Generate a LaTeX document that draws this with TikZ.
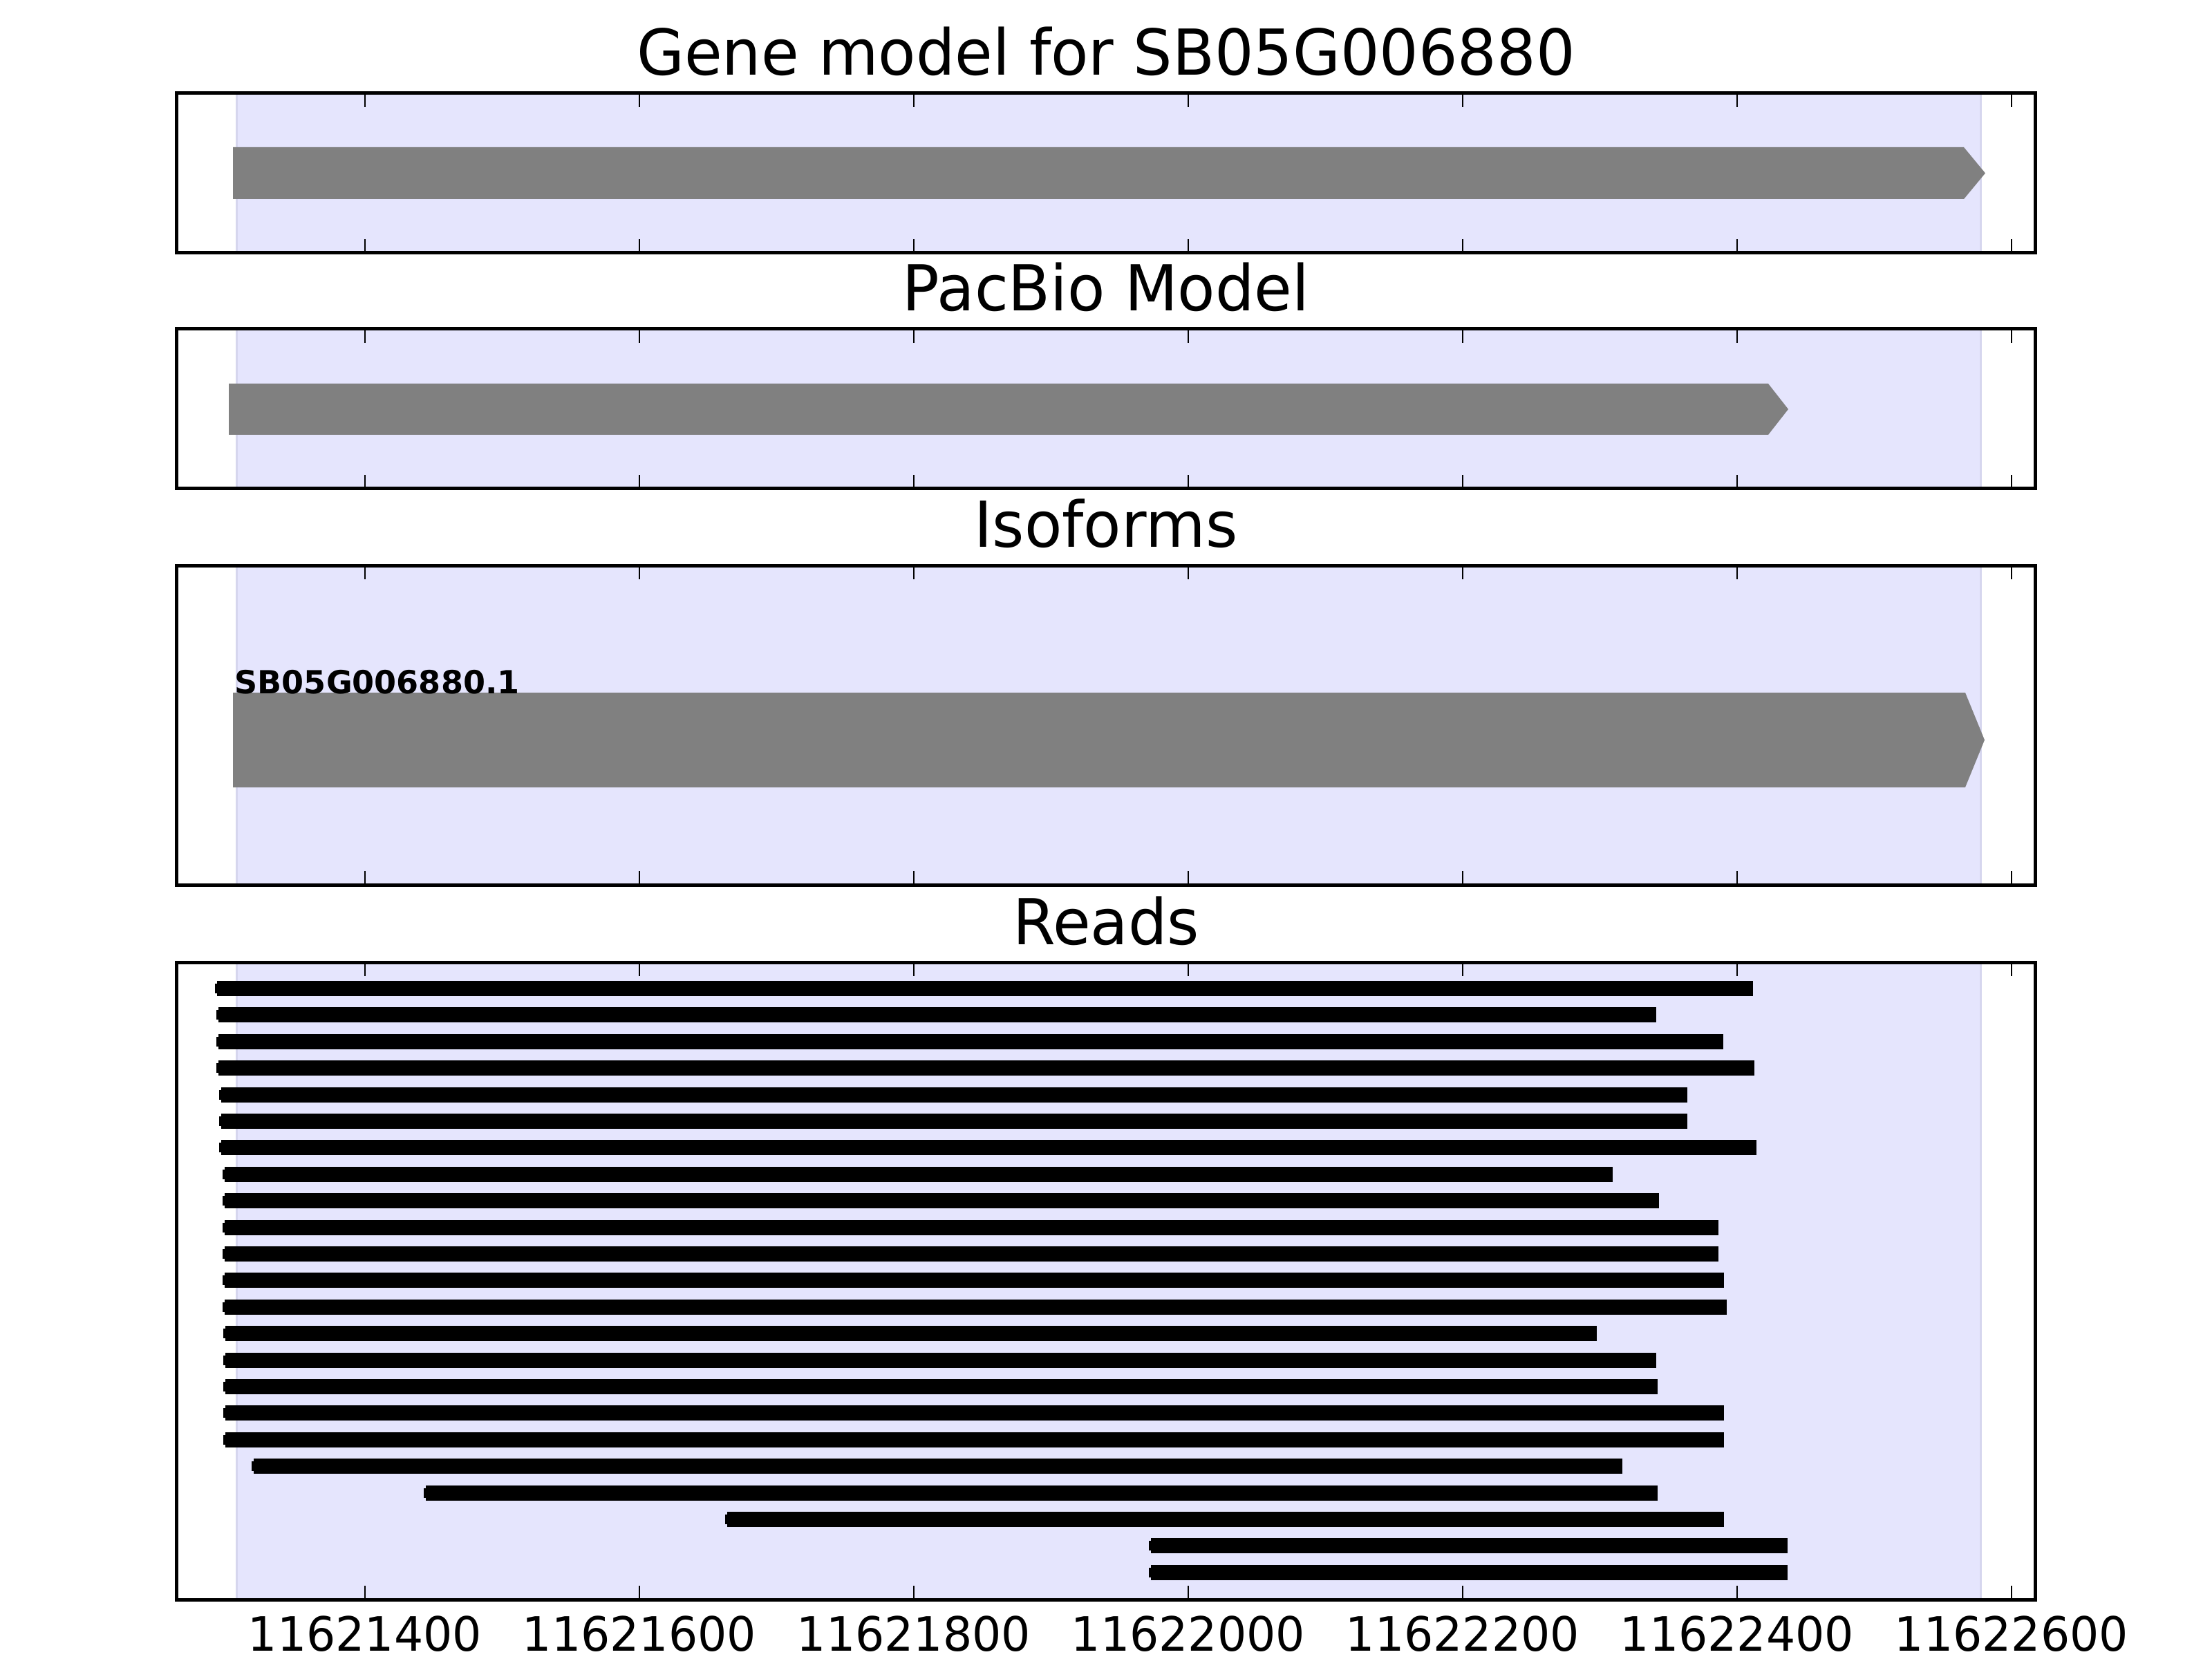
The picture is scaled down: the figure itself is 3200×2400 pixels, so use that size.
\documentclass[tikz,border=0pt]{standalone}
\usepackage{fontspec}
\setmainfont{DejaVu Sans}
\usetikzlibrary{positioning}

\definecolor{spanfill}{RGB}{229,229,253}
\definecolor{spanedge}{RGB}{214,214,238}
\definecolor{genegray}{RGB}{128,128,128}
\newcommand{\tallify}[1]{\scalebox{1}[1.03]{#1}}

\begin{document}
\begin{tikzpicture}[
  x=0.1mm, y=-0.1mm,
  frame/.style={draw=black, line width=0.5mm},
  tickmark/.style={draw=black, line width=0.25mm},
  region/.style={fill=spanfill},
  regionedge/.style={draw=spanedge, line width=0.3mm},
  genebar/.style={fill=genegray},
  readbar/.style={fill=black},
  paneltitle/.style={anchor=base, inner sep=0pt, font=\fontsize{25.3}{30}\selectfont},
  ticklabel/.style={anchor=base, inner sep=0pt, font=\fontsize{18.9}{22}\selectfont},
  isolabel/.style={anchor=base west, inner sep=0pt, font=\fontsize{13.1}{16}\selectfont\bfseries}
]
\useasboundingbox (0,0) rectangle (3200,2400);

% highlighted gene span behind every panel
\foreach \top/\bot in {135/366, 476/707, 818/1280, 1392/2314} {
  \fill[region] (342,\top) rectangle (2865,\bot);
  \draw[regionedge] (342,\top) -- (342,\bot) (2865,\top) -- (2865,\bot);
}

% gene model, pacbio model, isoform
\fill[genebar] (337,213) -- (2841,213) -- (2872,250.5) -- (2841,288) -- (337,288) -- cycle;
\fill[genebar] (331,555) -- (2558,555) -- (2587,592) -- (2558,629) -- (331,629) -- cycle;
\fill[genebar] (337,1002) -- (2843,1002) -- (2871,1070.5) -- (2843,1139) -- (337,1139) -- cycle;
\node[isolabel] (isoname) at (339,1003) {SB05G006880.1};

% reads
\foreach \l/\r [count=\i from 0] in {314/2536, 316/2396, 316/2493, 316/2538, 320/2441, 320/2441,
    320/2541, 325/2333, 325/2400, 325/2486, 325/2486, 325/2494, 325/2498, 326/2310,
    326/2396, 326/2398, 326/2494, 326/2494, 367/2347, 616/2398, 1052/2494, 1665/2586, 1665/2586} {
  \fill[readbar] (\l,{1419+38.4*\i}) rectangle (\r,{1441+38.4*\i});
  \fill[readbar] ({\l-3},{1423+38.4*\i}) rectangle (\l,{1437+38.4*\i});
}

% frames, ticks and titles
\foreach \name/\top/\bot/\ttl in {gene/135/366/{Gene model for SB05G006880},
    pacbio/476/707/{PacBio Model}, iso/818/1280/{Isoforms}, reads/1392/2314/{Reads}} {
  \foreach \k in {0,...,6} {
    \draw[tickmark] ({528+397*\k},\top) -- ++(0,20);
    \draw[tickmark] ({528+397*\k},\bot) -- ++(0,-20);
  }
  \draw[frame] (255,\top) rectangle (2944,\bot);
  \node[paneltitle] (\name title) at (1600,{\top-26}) {\tallify{\ttl}};
}

% x axis labels
\foreach \k in {0,...,6} {
  \node[ticklabel] (tick\k) at ({528+397*\k},2388) {\tallify{\number\numexpr11621400+200*\k\relax}};
}
\end{tikzpicture}
\end{document}
